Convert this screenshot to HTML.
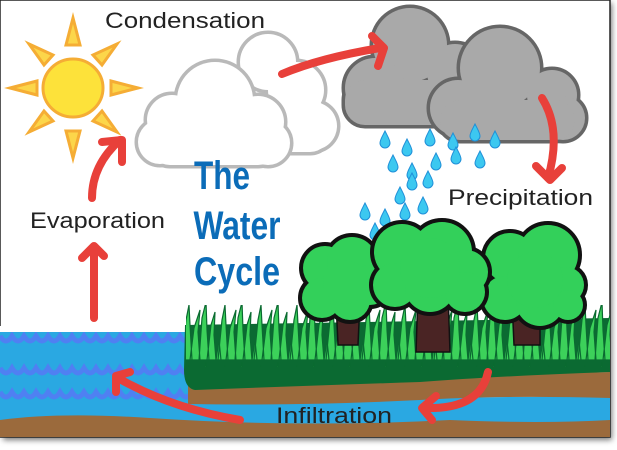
<!DOCTYPE html>
<html><head><meta charset="utf-8"><style>
html,body{margin:0;padding:0;background:#fff;width:617px;height:450px;overflow:hidden}
svg{display:block}
text{font-family:"Liberation Sans",sans-serif}
</style></head><body>
<svg width="617" height="450" viewBox="0 0 617 450" xmlns="http://www.w3.org/2000/svg">
<defs>
<filter id="sh" x="-5%" y="-5%" width="110%" height="110%"><feGaussianBlur stdDeviation="3"/></filter>
<pattern id="grass" x="0" y="300" width="36" height="60" patternUnits="userSpaceOnUse">
<path d="M2 60 L6 20 L9 5 L10 25 L12 60Z M10 60 L14 28 L20 10 L18 32 L20 60Z M19 60 L22 18 L26 2 L27 30 L29 60Z M27 60 L31 25 L35 12 L34 35 L36 60Z M0 60 L3 40 L5 60Z" fill="#3cd15a" stroke="#0a6a30" stroke-width="1.2"/>
</pattern>
<g id="drop"><path d="M0 -9 C3 -3 5 0 5 3 A5 5 0 0 1 -5 3 C-5 0 -3 -3 0 -9Z" fill="#3cc8f0" stroke="#1f8fd8" stroke-width="1"/></g>
<g id="cw1"><circle cx="268" cy="62" r="28"/><circle cx="296" cy="90" r="28"/><circle cx="313" cy="126" r="24"/><rect x="240" y="100" width="90" height="52" rx="20"/></g>
<g id="cw2"><circle cx="215" cy="100" r="38"/><circle cx="172" cy="120" r="25"/><circle cx="258" cy="122" r="26"/><circle cx="160" cy="142" r="22"/><circle cx="268" cy="143" r="22"/><rect x="150" y="120" width="128" height="45" rx="20"/></g>
<g id="cg1"><circle cx="410" cy="45" r="37"/><circle cx="375" cy="88" r="30"/><circle cx="455" cy="72" r="28"/><circle cx="480" cy="103" r="22"/><rect x="345" y="80" width="145" height="45" rx="20"/></g>
<g id="cg2"><circle cx="500" cy="68" r="40"/><circle cx="458" cy="108" r="28"/><circle cx="552" cy="95" r="25"/><circle cx="563" cy="118" r="22"/><rect x="440" y="100" width="135" height="40" rx="20"/></g>
<g id="t1"><circle cx="325" cy="268" r="22"/><circle cx="352" cy="262" r="25"/><circle cx="370" cy="285" r="20"/><circle cx="322" cy="298" r="20"/><circle cx="350" cy="300" r="20"/><circle cx="345" cy="282" r="22"/></g>
<g id="t2"><circle cx="402" cy="252" r="28"/><circle cx="442" cy="252" r="30"/><circle cx="466" cy="272" r="22"/><circle cx="395" cy="285" r="22"/><circle cx="430" cy="287" r="25"/><circle cx="465" cy="292" r="20"/><circle cx="430" cy="268" r="30"/></g>
<g id="t3"><circle cx="510" cy="258" r="25"/><circle cx="548" cy="255" r="30"/><circle cx="566" cy="285" r="18"/><circle cx="505" cy="298" r="22"/><circle cx="540" cy="302" r="24"/><circle cx="568" cy="305" r="15"/><circle cx="535" cy="280" r="28"/></g>
</defs>
<rect x="3" y="3" width="609" height="437" fill="#777" filter="url(#sh)"/>
<rect x="0" y="0" width="610" height="437" fill="#fff" stroke="#222" stroke-width="1.5"/>

<g stroke="#f5ad35" stroke-width="3">
<g fill="#fcd64a">
<polygon points="73,18 66,45 80,45"/>
<polygon points="73,158 66,131 80,131"/>
<polygon points="10,88 37,81 37,95"/>
<polygon points="138,88 111,81 111,95"/>
<polygon points="29,44 44,65 53,55"/>
<polygon points="117,44 102,65 93,55"/>
<polygon points="29,132 44,111 53,121"/>
<polygon points="117,132 102,111 93,121"/>
</g>
<ellipse cx="73" cy="88" rx="30" ry="29" fill="#fde23a"/>
</g>

<use href="#cw1" fill="#b9b9b9" stroke="#b9b9b9" stroke-width="7"/><use href="#cw1" fill="#fff"/>
<use href="#cw2" fill="#b9b9b9" stroke="#b9b9b9" stroke-width="7"/><use href="#cw2" fill="#fff"/>
<use href="#cg1" fill="#666" stroke="#666" stroke-width="7"/><use href="#cg1" fill="#a9a9a9"/>
<use href="#cg2" fill="#666" stroke="#666" stroke-width="7"/><use href="#cg2" fill="#a9a9a9"/>

<use href="#drop" x="385" y="140"/><use href="#drop" x="407" y="148"/><use href="#drop" x="430" y="138"/>
<use href="#drop" x="453" y="142"/><use href="#drop" x="475" y="133"/><use href="#drop" x="495" y="140"/>
<use href="#drop" x="393" y="164"/><use href="#drop" x="412" y="172"/><use href="#drop" x="436" y="162"/>
<use href="#drop" x="456" y="156"/><use href="#drop" x="480" y="160"/><use href="#drop" x="400" y="196"/>
<use href="#drop" x="412" y="182"/><use href="#drop" x="428" y="180"/><use href="#drop" x="365" y="212"/>
<use href="#drop" x="385" y="218"/><use href="#drop" x="405" y="212"/><use href="#drop" x="423" y="206"/>
<use href="#drop" x="375" y="232"/><use href="#drop" x="392" y="240"/>

<rect x="0" y="326" width="190" height="111" fill="#2aa8e2"/>
<g fill="none" stroke="#4f80f2" stroke-width="5">
<path d="M0 336 q6 10 12 0 q6 10 12 0 q6 10 12 0 q6 10 12 0 q6 10 12 0 q6 10 12 0 q6 10 12 0 q6 10 12 0 q6 10 12 0 q6 10 12 0 q6 10 12 0 q6 10 12 0 q6 10 12 0 q6 10 12 0 q6 10 12 0 q6 10 12 0"/>
<path d="M0 368 q6 10 12 0 q6 10 12 0 q6 10 12 0 q6 10 12 0 q6 10 12 0 q6 10 12 0 q6 10 12 0 q6 10 12 0 q6 10 12 0 q6 10 12 0 q6 10 12 0 q6 10 12 0 q6 10 12 0 q6 10 12 0 q6 10 12 0 q6 10 12 0"/>
<path d="M0 392 q6 10 12 0 q6 10 12 0 q6 10 12 0 q6 10 12 0 q6 10 12 0 q6 10 12 0 q6 10 12 0 q6 10 12 0 q6 10 12 0 q6 10 12 0 q6 10 12 0 q6 10 12 0 q6 10 12 0 q6 10 12 0 q6 10 12 0 q6 10 12 0"/>
</g>
<rect x="0" y="326" width="190" height="6" fill="#fff"/>
<path d="M185 400 L610 396 L610 428 L0 428 L0 420 L185 420Z" fill="#2aa8e2"/>
<path d="M0 420 Q60 412 150 418 Q300 428 450 420 Q540 424 610 420 L610 437 L0 437Z" fill="#9b6a3c"/>
<path d="M188 380 L610 372 L610 398 Q500 395 420 400 Q300 406 188 404Z" fill="#9b6a3c"/>
<path d="M185 325 L610 318 L610 372 Q500 376 420 382 Q300 386 195 390 Q184 388 184 370Z" fill="#0b6a32"/>

<rect x="186" y="305" width="424" height="62" fill="url(#grass)"/>
<g fill="#4a2424" stroke="#111" stroke-width="1.5">
<path d="M336 300 L360 300 L358 345 L338 345Z"/>
<path d="M418 292 L448 292 L450 352 L416 352Z"/>
<path d="M512 300 L540 300 L540 345 L514 345Z"/>
</g>
<use href="#t1" fill="#111" stroke="#111" stroke-width="8"/><use href="#t1" fill="#33d05a"/>
<use href="#t3" fill="#111" stroke="#111" stroke-width="8"/><use href="#t3" fill="#33d05a"/>
<use href="#t2" fill="#111" stroke="#111" stroke-width="8"/><use href="#t2" fill="#33d05a"/>

<g fill="none" stroke="#e8403a" stroke-width="8" stroke-linecap="round" stroke-linejoin="round">
<path d="M94 318 L94 250"/><path d="M82 258 L94 246 L104 256"/>
<path d="M92 198 Q92 165 120 140"/><path d="M102 142 L122 140 L122 162"/>
<path d="M282 74 Q320 58 380 48"/><path d="M372 36 L384 48 L378 66"/>
<path d="M542 98 Q562 130 548 178"/><path d="M536 166 L550 180 L562 168"/>
<path d="M488 372 Q480 410 424 408"/><path d="M436 396 L422 408 L432 420"/>
<path d="M240 420 Q170 408 118 378"/><path d="M116 392 L116 376 L130 372"/>
</g>

<g fill="#222" font-size="22">
<text x="105" y="28" textLength="160" lengthAdjust="spacingAndGlyphs">Condensation</text>
<text x="30" y="228" textLength="135" lengthAdjust="spacingAndGlyphs">Evaporation</text>
<text x="448" y="205" textLength="145" lengthAdjust="spacingAndGlyphs">Precipitation</text>
<text x="276" y="423" textLength="116" lengthAdjust="spacingAndGlyphs">Infiltration</text>
</g>
<g fill="#0b6cb8" font-weight="bold" font-size="40" text-anchor="middle">
<text x="222" y="189" textLength="56" lengthAdjust="spacingAndGlyphs">The</text>
<text x="237" y="239" textLength="87" lengthAdjust="spacingAndGlyphs">Water</text>
<text x="237" y="285" textLength="86" lengthAdjust="spacingAndGlyphs">Cycle</text>
</g>
</svg>
</body></html>
